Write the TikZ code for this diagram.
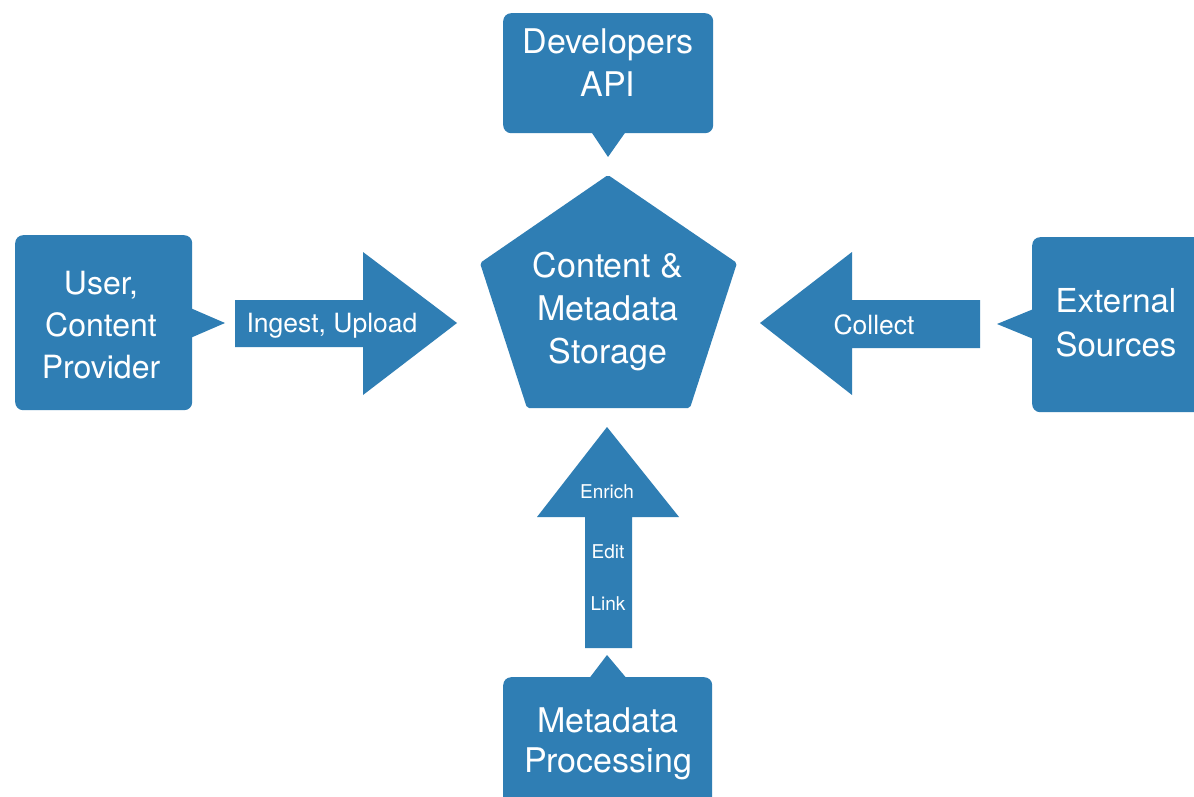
\documentclass[tikz,border=0pt]{standalone}
\usepackage{fontspec}
\setmainfont{TeX Gyre Heros}
\definecolor{boxblue}{RGB}{47,126,180}
\begin{document}
\begin{tikzpicture}[x=1pt,y=-1pt,
  shapefill/.style={fill=boxblue,draw=none},
  boxnode/.style={shapefill,rectangle,rounded corners=8pt,inner sep=0pt,anchor=north west},
  lbl/.style={text=white,align=center,inner sep=0pt},
  fsbig/.style={font=\fontsize{34}{43}\selectfont},
  fsuser/.style={font=\fontsize{32}{42}\selectfont},
  fsext/.style={font=\fontsize{33}{44}\selectfont},
  fsmeta/.style={font=\fontsize{34}{40}\selectfont},
  fsarrow/.style={font=\fontsize{26.5}{30}\selectfont},
  fssmall/.style={font=\fontsize{19}{22}\selectfont}
]
\useasboundingbox (0,0) rectangle (1194,797);
\clip (0,0) rectangle (1194,797);
\fill[white] (0,0) rectangle (1194,797);

% boxes
\node[boxnode,minimum width=210pt,minimum height=120pt] (dev) at (503,13) {};
\node[boxnode,minimum width=177pt,minimum height=175pt] (user) at (15,235) {};
\node[boxnode,minimum width=200pt,minimum height=175pt] (ext) at (1032,237) {};
\node[boxnode,minimum width=209pt,minimum height=150pt] (meta) at (503,677) {};

% callout pointers
\fill[shapefill] (590,130) -- (608,157) -- (627,130) -- cycle;
\fill[shapefill] (188,307) -- (225,323) -- (188,339) -- cycle;
\fill[shapefill] (1036,308) -- (997,324) -- (1036,340) -- cycle;
\fill[shapefill] (588,680) -- (607,655) -- (628,680) -- cycle;

% pentagon
\fill[shapefill,rounded corners=2pt] (608,175) -- (737,263) -- (690,408) -- (527,408) -- (480,263) -- cycle;

% block arrows
\fill[shapefill] (235,300) -- (363,300) -- (363,252) -- (457,323) -- (363,395) -- (363,347) -- (235,347) -- cycle;
\fill[shapefill] (980,300) -- (852,300) -- (852,252) -- (760,323) -- (852,395) -- (852,348) -- (980,348) -- cycle;
\fill[shapefill] (585,648) -- (585,517) -- (537,517) -- (607,427) -- (679,517) -- (632,517) -- (632,648) -- cycle;

% labels
\node[lbl,fsbig] (devtxt) at (608,63) {Developers\\API};
\node[lbl,fsbig] (store) at (608,312) {Content \&\\Metadata\\Storage};
\node[lbl,fsuser] (usertxt) at (101,325) {User,\\Content\\Provider};
\node[lbl,fsext] (exttxt) at (1116,323) {External\\Sources};
\node[lbl,fsmeta] (metatxt) at (608,744) {Metadata\\Processing};
\node[lbl,fsarrow,anchor=base] (ingest) at (332,332) {Ingest, Upload};
\node[lbl,fsarrow,anchor=base] (collect) at (874,334) {Collect};
\node[lbl,fssmall,anchor=base] (enrich) at (607,498) {Enrich};
\node[lbl,fssmall,anchor=base] (edit) at (608,558) {Edit};
\node[lbl,fssmall,anchor=base] (link) at (608,610) {Link};
\end{tikzpicture}
\end{document}
